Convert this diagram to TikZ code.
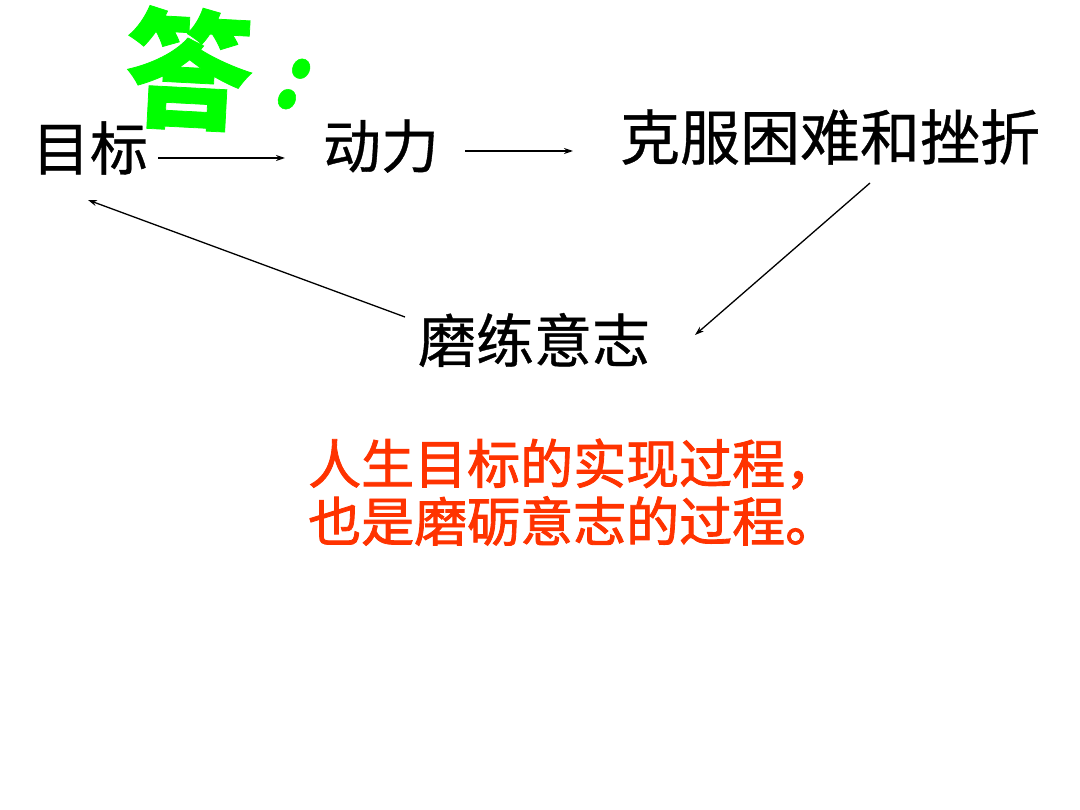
\documentclass[tikz,border=0pt]{standalone}
\usepackage{fontspec}
\newfontfamily\cjk[FakeBold=0.6]{Noto Sans CJK SC}
\newfontfamily\cjkn[FakeBold=1.6]{Noto Sans CJK SC}
\usetikzlibrary{arrows.meta}
\definecolor{ansgreen}{RGB}{0,255,0}
\definecolor{noteRed}{RGB}{255,51,0}
\begin{document}
\begin{tikzpicture}[x=1pt,y=-1pt,
  lbl/.style={inner sep=0pt,font=\cjk\fontsize{58}{62}\selectfont},
  note/.style={inner sep=0pt,font=\cjkn\fontsize{53}{58}\selectfont,text=noteRed},
  conn/.style={line width=1.3pt,-{Stealth[length=9pt,width=6pt]}}]
\fill[white] (0,0) rectangle (1080,810);
\useasboundingbox (0,0) rectangle (1080,810);
\node[inner sep=0pt,text=ansgreen,font=\cjk\bfseries\fontsize{128}{132}\selectfont,rotate=-3] (ans) at (189,69) {答};
\node[inner sep=0pt,text=ansgreen,font=\cjk\bfseries\fontsize{80}{90}\selectfont,rotate=-25,yscale=1.15] (colon) at (294,84) {:};
\node[lbl] (goal) at (90,148) {目标};
\node[lbl] (drive) at (381,146) {动力};
\node[lbl,font=\cjk\fontsize{60}{64}\selectfont] (overcome) at (830,137) {克服困难和挫折};
\node[lbl] (will) at (534,340) {磨练意志};
\node[note,anchor=west] (n1) at (308,464) {人生目标的实现过程，};
\node[note,anchor=west] (n2) at (308,521) {也是磨砺意志的过程。};
\coordinate (a1s) at (158,158); \coordinate (a1e) at (285,158);
\coordinate (a2s) at (465,151); \coordinate (a2e) at (573,151);
\coordinate (a3s) at (870,183); \coordinate (a3e) at (695,335);
\coordinate (a4s) at (405,317); \coordinate (a4e) at (88,200);
\draw[conn] (a1s) -- (a1e);
\draw[conn] (a2s) -- (a2e);
\draw[conn] (a3s) -- (a3e);
\draw[conn] (a4s) -- (a4e);
\end{tikzpicture}
\end{document}
